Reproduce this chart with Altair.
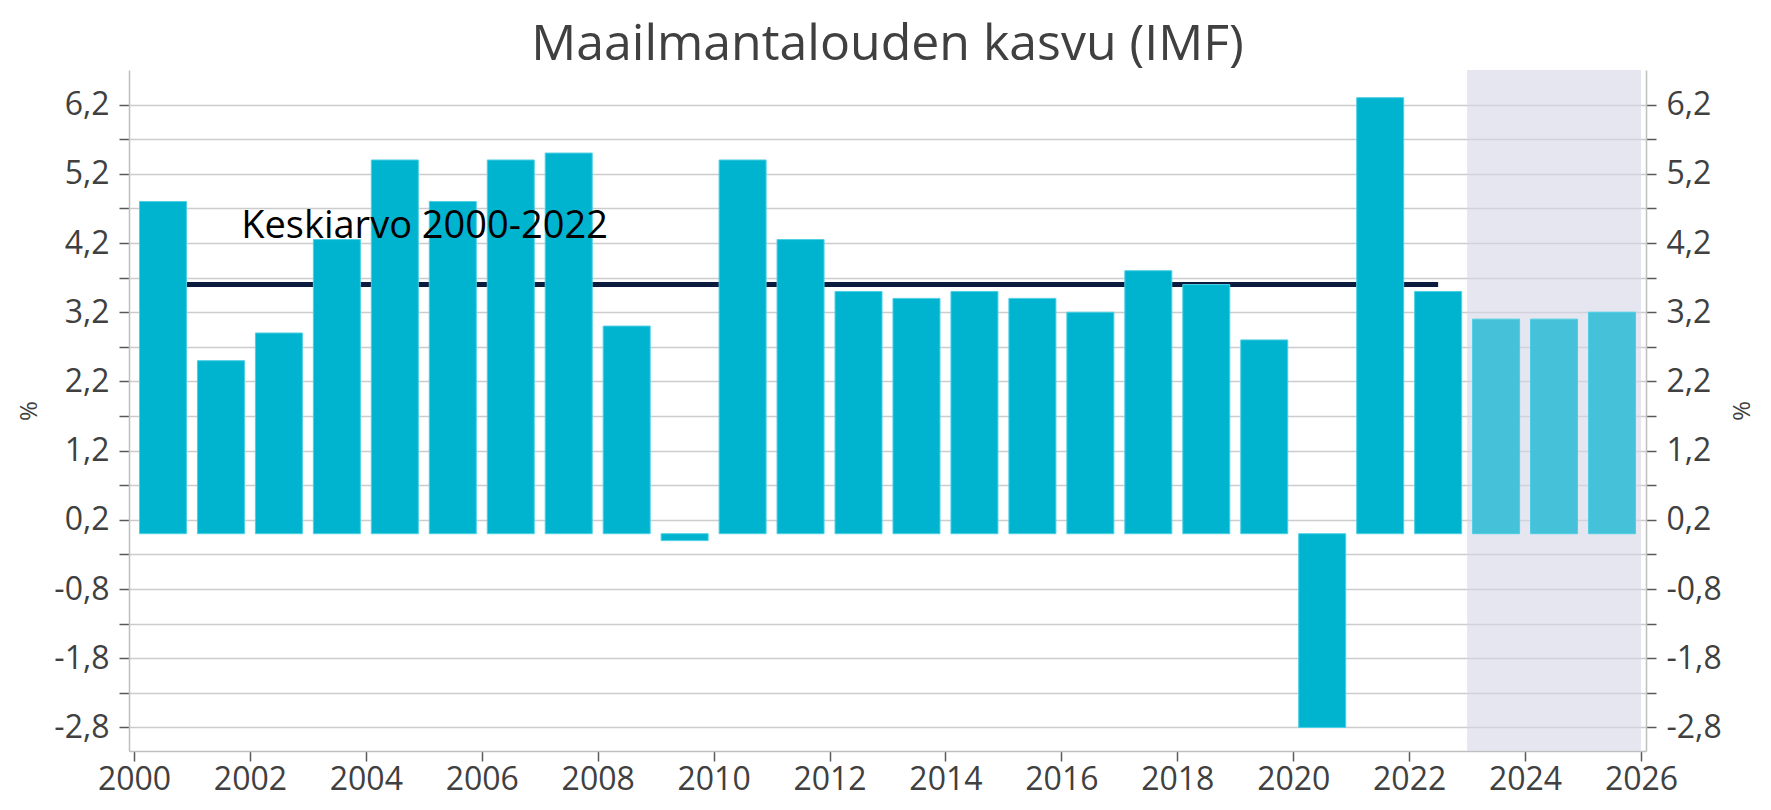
import altair as alt
import pandas as pd

# ---- data ----
years = list(range(2000, 2026))
growth = [4.8, 2.5, 2.9, 4.25, 5.4, 4.8, 5.4, 5.5, 3.0, -0.1,
          5.4, 4.25, 3.5, 3.4, 3.5, 3.4, 3.2, 3.8, 3.6, 2.8,
          -2.8, 6.3, 3.5, 3.1, 3.1, 3.2]
kinds = ["Toteutunut"] * 23 + ["Ennuste"] * 3
mean_value = 3.6
mean_first_year = 2000
mean_last_year = 2022
forecast_start = 2023
forecast_end = 2026
x_ticks = list(range(2000, 2027, 2))
y_ticks = [-2.8, -2.3, -1.8, -1.3, -0.8, -0.3, 0.2, 0.7, 1.2, 1.7,
           2.2, 2.7, 3.2, 3.7, 4.2, 4.7, 5.2, 5.7, 6.2]
y_domain = [-3.14, 6.7]
title_text = "Maailmantalouden kasvu (IMF)"
mean_label = "Keskiarvo 2000-2022"

FONT = "Open Sans"
TXT = "#404040"

df = pd.DataFrame({"year": years, "growth": growth, "kind": kinds})
df["mid"] = df["year"] + 0.5
mean_df = pd.DataFrame({"start": [mean_first_year + 0.5], "end": [mean_last_year + 0.5], "mean": [mean_value]})
shade_df = pd.DataFrame({"start": [forecast_start], "end": [forecast_end]})
label_df = pd.DataFrame({"x": [2001.85], "y": [4.27], "t": [mean_label]})

xscale = alt.Scale(domain=[2000, 2026], nice=False, zero=False)
yscale = alt.Scale(domain=y_domain, nice=False, zero=False)

x_axis = alt.Axis(values=x_ticks, format="d", title=None, grid=False,
                  tickSize=10, tickWidth=1.5, tickColor="#595959",
                  domainColor="#BFBFBF", domainWidth=1.5,
                  labelFont=FONT, labelFontSize=32, labelColor=TXT, labelPadding=3)

label_expr = "round((datum.value + 2.8) * 2) % 2 == 0 ? replace(toString(datum.value), '.', ',') : ''"

def y_axis(orient, grid, pad):
    return alt.Axis(orient=orient, values=y_ticks, labelExpr=label_expr, title="%",
                    grid=grid, gridColor="#CCCCCC", gridWidth=1.5,
                    tickSize=10, tickWidth=1.5, tickColor="#595959",
                    domainColor="#BFBFBF", domainWidth=1.5,
                    labelFont=FONT, labelFontSize=32, labelColor=TXT, labelPadding=10,
                    titleFont=FONT, titleFontSize=24, titleFontWeight="normal",
                    titleColor=TXT, titlePadding=pad)

shade = alt.Chart(shade_df).mark_rect(color="#D5D5E6", opacity=0.6).encode(
    x=alt.X("start:Q", scale=xscale, axis=x_axis),
    x2="end:Q",
    y=alt.Y(datum=y_domain[1], scale=yscale, axis=None),
    y2=alt.Y2(datum=y_domain[0]),
)

mean_rule = alt.Chart(mean_df).mark_rule(color="#0C1C3E", strokeWidth=5).encode(
    x=alt.X("start:Q", scale=xscale, axis=x_axis),
    x2="end:Q",
    y=alt.Y("mean:Q", scale=yscale, axis=y_axis("right", False, 6)),
)

bars = alt.Chart(df).mark_bar(size=47, stroke="#4DCFE4", strokeWidth=1).encode(
    x=alt.X("mid:Q", scale=xscale, axis=x_axis),
    y=alt.Y("growth:Q", scale=yscale, axis=y_axis("left", True, 12)),
    y2=alt.Y2(datum=0),
    color=alt.Color("kind:N", scale=alt.Scale(domain=["Toteutunut", "Ennuste"],
                                              range=["#00B4CF", "#45C1DA"]), legend=None),
)

label = alt.Chart(label_df).mark_text(align="left", baseline="alphabetic", font=FONT,
                                      fontSize=38, color="#000000").encode(
    x=alt.X("x:Q", scale=xscale, axis=x_axis),
    y=alt.Y("y:Q", scale=yscale, axis=None),
    text="t:N",
)

chart = alt.layer(shade, mean_rule, bars, label).resolve_scale(y="independent").properties(
    width=1517, height=681,
    padding={"left": 121, "top": 62, "right": 117, "bottom": 51},
    autosize=alt.AutoSizeParams(type="none"),
    title=alt.TitleParams(title_text, font=FONT, fontSize=50, fontWeight="normal",
                          color=TXT, anchor="middle", frame="group", offset=0),
).configure_view(stroke=None)

chart.save("out.html", embed_options={"renderer": "svg", "actions": False})
